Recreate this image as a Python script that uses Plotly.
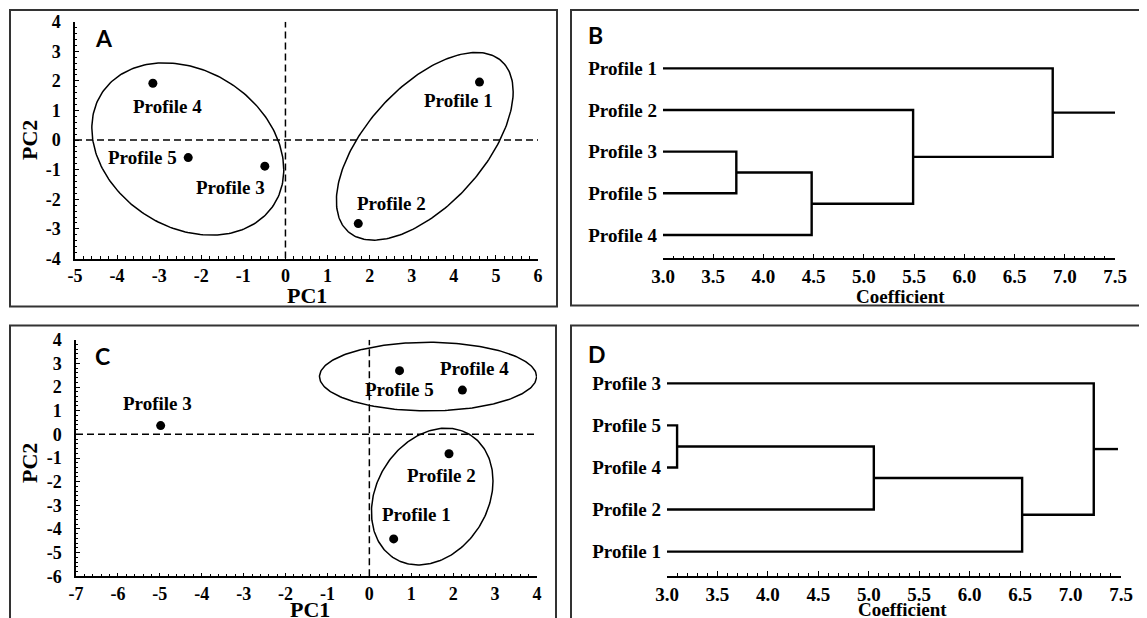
import numpy as np
import plotly.graph_objects as go

W, H = 1147, 618

# ---------------- data ----------------
pca_a_labels = ["Profile 1", "Profile 2", "Profile 3", "Profile 4", "Profile 5"]
pca_a_pc1 = [4.61, 1.73, -0.49, -3.15, -2.31]
pca_a_pc2 = [1.96, -2.82, -0.88, 1.92, -0.59]
# ellipses: (cx, cy, rx, ry, phase)
ell_a = [(3.31, -0.21, 2.10, 3.17, 0.62), (-2.32, -0.30, 2.28, 2.91, -0.245)]

pca_c_labels = ["Profile 1", "Profile 2", "Profile 3", "Profile 4", "Profile 5"]
pca_c_pc1 = [0.58, 1.90, -4.98, 2.22, 0.72]
pca_c_pc2 = [-4.42, -0.82, 0.37, 1.87, 2.69]
ell_c = [(1.40, 2.44, 2.59, 1.45, 0.0), (1.50, -2.63, 1.45, 2.89, 0.23)]

dend_b_leaves = ["Profile 1", "Profile 2", "Profile 3", "Profile 5", "Profile 4"]
dend_b_merges = [("Profile 3", "Profile 5", 3.73), ("m1", "Profile 4", 4.48),
                 ("Profile 2", "m2", 5.49), ("Profile 1", "m3", 6.88)]
dend_b_root = 7.5

dend_d_leaves = ["Profile 3", "Profile 5", "Profile 4", "Profile 2", "Profile 1"]
dend_d_merges = [("Profile 5", "Profile 4", 3.10), ("m1", "Profile 2", 5.05),
                 ("m2", "Profile 1", 6.52), ("Profile 3", "m3", 7.23)]
dend_d_root = 7.47

pc1_a_ticks = [-5, -4, -3, -2, -1, 0, 1, 2, 3, 4, 5, 6]
pc2_a_ticks = [-4, -3, -2, -1, 0, 1, 2, 3, 4]
pc1_c_ticks = [-7, -6, -5, -4, -3, -2, -1, 0, 1, 2, 3, 4]
pc2_c_ticks = [-6, -5, -4, -3, -2, -1, 0, 1, 2, 3, 4]
coef_ticks = [3.0, 3.5, 4.0, 4.5, 5.0, 5.5, 6.0, 6.5, 7.0, 7.5]

# ---------------- styles ----------------
SERIF = "Liberation Serif"
PAGE_OFF = 8  # page body margin compensation
lab_off_a = {"Profile 1": (-21, -18), "Profile 2": (33, 20), "Profile 3": (-34, -21),
             "Profile 4": (15, -23), "Profile 5": (-46, 0)}
lab_off_c = {"Profile 1": (23, 24), "Profile 2": (-7, -22), "Profile 3": (-3, 22),
             "Profile 4": (12, 22), "Profile 5": (0, -19)}


def fx(p):
    return (p - PAGE_OFF) / W


def fy(p):
    return 1 - (p - PAGE_OFF) / H


def rng(ticks):
    return [ticks[0], ticks[-1]]


def bold(s):
    return "<b>%s</b>" % s


fig = go.Figure()

minor_pc = dict(ticks="inside", ticklen=2.5, tickcolor="black", tickwidth=1, dtick=0.2)
axis_common = dict(showgrid=False, zeroline=False, showline=True, linecolor="black",
                   linewidth=1.5, ticks="inside", ticklen=4, tickcolor="black",
                   tickwidth=1.2, automargin=False, tickmode="array",
                   tickfont=dict(family=SERIF, size=18, color="black"),
                   minor=minor_pc)


def add_pca(xa, ya, pc1, pc2, labels, ells, offs, xr, yr):
    fig.add_trace(go.Scatter(x=xr, y=[0, 0], mode="lines", xaxis=xa, yaxis=ya,
                             line=dict(color="black", width=1.5, dash="7px,4px"),
                             hoverinfo="skip", showlegend=False))
    fig.add_trace(go.Scatter(x=[0, 0], y=yr, mode="lines", xaxis=xa, yaxis=ya,
                             line=dict(color="black", width=1.5, dash="7px,4px"),
                             hoverinfo="skip", showlegend=False))
    t = np.linspace(0, 2 * np.pi, 241)
    for cx, cy, rx, ry, ph in ells:
        fig.add_trace(go.Scatter(x=cx + rx * np.cos(t), y=cy + ry * np.sin(t + ph),
                                 mode="lines", xaxis=xa, yaxis=ya,
                                 line=dict(color="black", width=1.5),
                                 hoverinfo="skip", showlegend=False))
    fig.add_trace(go.Scatter(x=pc1, y=pc2, mode="markers", xaxis=xa, yaxis=ya,
                             marker=dict(color="black", size=9),
                             text=labels, showlegend=False))
    for x, y, lab in zip(pc1, pc2, labels):
        dx, dy = offs[lab]
        fig.add_annotation(x=x, y=y, xref=xa, yref=ya, text=bold(lab), showarrow=False,
                           xshift=dx, yshift=dy,
                           font=dict(family=SERIF, size=19, color="black"))


def add_dend(xa, ya, leaves, merges, root_end):
    n = len(leaves)
    pos = {lab: (coef_ticks[0], n - i) for i, lab in enumerate(leaves)}
    xs, ys = [], []
    for k, (a, b, h) in enumerate(merges, start=1):
        (x1, y1), (x2, y2) = pos[a], pos[b]
        xs += [x1, h, h, x2, None]
        ys += [y1, y1, y2, y2, None]
        pos["m%d" % k] = (h, (y1 + y2) / 2)
    hx, hy = pos["m%d" % len(merges)]
    xs += [hx, root_end]
    ys += [hy, hy]
    fig.add_trace(go.Scatter(x=xs, y=ys, mode="lines", xaxis=xa, yaxis=ya,
                             line=dict(color="black", width=2.4),
                             hoverinfo="skip", showlegend=False))


add_pca("x", "y", pca_a_pc1, pca_a_pc2, pca_a_labels, ell_a, lab_off_a, rng(pc1_a_ticks), rng(pc2_a_ticks))
add_pca("x3", "y3", pca_c_pc1, pca_c_pc2, pca_c_labels, ell_c, lab_off_c, rng(pc1_c_ticks), rng(pc2_c_ticks))
add_dend("x2", "y2", dend_b_leaves, dend_b_merges, dend_b_root)
add_dend("x4", "y4", dend_d_leaves, dend_d_merges, dend_d_root)


def pc_axis(ticks, domain, anchor, standoff):
    return dict(axis_common, domain=domain, range=rng(ticks), tickvals=ticks,
                ticktext=[bold(v) for v in ticks], anchor=anchor, ticklabelstandoff=standoff)


dend_x = dict(axis_common)
dend_x.update(range=rng(coef_ticks), tickvals=coef_ticks,
              ticktext=[bold("%.1f" % v) for v in coef_ticks], ticklen=5,
              tickfont=dict(family=SERIF, size=19, color="black"),
              minor=dict(ticks="inside", ticklen=3, tickcolor="black", tickwidth=1, dtick=0.1),
              ticklabelstandoff=0)

dend_y = dict(showgrid=False, zeroline=False, showline=False, ticks="", automargin=False,
              tickmode="array", tickvals=[1, 2, 3, 4, 5],
              tickfont=dict(family=SERIF, size=19, color="black"),
              ticklabelstandoff=5)

fig.update_layout(
    template=None,
    width=W, height=H, margin=dict(l=0, r=0, t=0, b=0, pad=0, autoexpand=False),
    paper_bgcolor="white", plot_bgcolor="white", showlegend=False,
    xaxis=pc_axis(pc1_a_ticks, [fx(75), fx(538)], "y", 0),
    yaxis=pc_axis(pc2_a_ticks, [fy(258.5), fy(21.7)], "x", 9),
    xaxis3=pc_axis(pc1_c_ticks, [fx(76), fx(537)], "y3", 0),
    yaxis3=pc_axis(pc2_c_ticks, [fy(576.3), fy(339.7)], "x3", 9),
    xaxis2=dict(dend_x, domain=[fx(663), fx(1115)], anchor="y2"),
    yaxis2=dict(dend_y, domain=[fy(258.3), fy(20)],
                range=[0.44, 6.16], ticktext=[bold(s) for s in dend_b_leaves[::-1]], anchor="x2"),
    xaxis4=dict(dend_x, domain=[fx(667), fx(1121)], anchor="y4"),
    yaxis4=dict(dend_y, domain=[fy(576), fy(340)],
                range=[0.42, 6.03], ticktext=[bold(s) for s in dend_d_leaves[::-1]], anchor="x4"),
)

# panel frames
for x0, y0, x1, y1 in [(10, 10, 557, 306.5), (571, 10, 1142.5, 305.5),
                       (10, 325.5, 556, 625), (571, 325.5, 1142, 625)]:
    fig.add_shape(type="rect", xref="paper", yref="paper",
                  x0=fx(x0), x1=fx(x1), y0=fy(y1), y1=fy(y0),
                  line=dict(color="#333333", width=2), fillcolor="rgba(0,0,0,0)", layer="below")

# panel letters
for txt, cx, cy in [("A", 103.5, 38.5), ("B", 595, 34.5), ("C", 102.5, 355.5), ("D", 596.5, 353.5)]:
    fig.add_annotation(x=fx(cx), y=fy(cy), xref="paper", yref="paper", text=bold(txt),
                       showarrow=False, xanchor="center", yanchor="middle",
                       font=dict(family="Lato", size=23, color="black"))

# axis titles
for txt, cx, cy, ang, sz in [("PC1", 307, 295, 0, 22), ("PC2", 29, 140, -90, 22),
                             ("PC1", 310, 609, 0, 22), ("PC2", 29, 463, -90, 22),
                             ("Coefficient", 900, 296.5, 0, 19), ("Coefficient", 902, 609, 0, 19)]:
    fig.add_annotation(x=fx(cx), y=fy(cy), xref="paper", yref="paper", text=bold(txt),
                       showarrow=False, xanchor="center", yanchor="middle", textangle=ang,
                       font=dict(family=SERIF, size=sz, color="black"))

fig.write_html("out.html")
